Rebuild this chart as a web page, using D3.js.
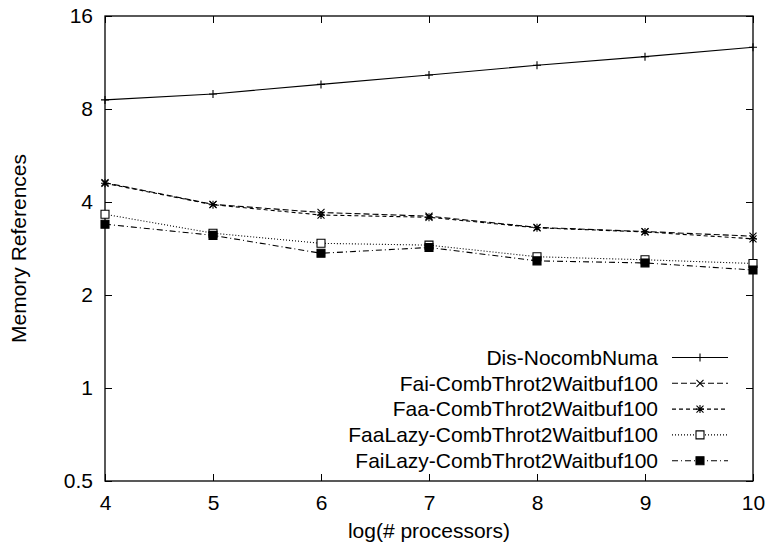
<!DOCTYPE html>
<html lang="en">
  <head>
    <meta charset="UTF-8" />
    <title>Memory References</title>
    <script src="https://cdn.jsdelivr.net/npm/d3@7/dist/d3.min.js"></script>
    <style>
      body { margin: 0; background: #fff; }
      svg text { font-family: 'Liberation Sans', Arial, Helvetica, sans-serif; fill: #000; }
    </style>
  </head>
  <body>
    <div id="chart"></div>
    <script>
      // data
      const procs = [4, 5, 6, 7, 8, 9, 10]
      const disNocombNuma = [8.56, 8.95, 9.61, 10.31, 11.08, 11.82, 12.67]
      const faiComb = [4.62, 3.93, 3.70, 3.60, 3.31, 3.21, 3.10]
      const faaComb = [4.60, 3.92, 3.63, 3.57, 3.30, 3.20, 3.04]
      const faaLazyComb = [3.65, 3.17, 2.94, 2.90, 2.66, 2.60, 2.53]
      const faiLazyComb = [3.39, 3.12, 2.73, 2.85, 2.58, 2.54, 2.41]
      const seriesNames = [
        'Dis-NocombNuma',
        'Fai-CombThrot2Waitbuf100',
        'Faa-CombThrot2Waitbuf100',
        'FaaLazy-CombThrot2Waitbuf100',
        'FaiLazy-CombThrot2Waitbuf100'
      ]
      const yTicks = [0.5, 1, 2, 4, 8, 16]
      const xTicks = [4, 5, 6, 7, 8, 9, 10]

      const seriesValues = [disNocombNuma, faiComb, faaComb, faaLazyComb, faiLazyComb]
      const dashes = ['none', '6,3', '4,3', '1,2', '6,3,1,3']
      const markers = ['plus', 'cross', 'star', 'box', 'filledBox']

      const width = 771
      const height = 550
      const margin = { top: 16, right: 18, bottom: 69, left: 105 }
      const fontSize = 21

      const svg = d3
        .select('#chart')
        .append('svg')
        .attr('width', width)
        .attr('height', height)

      const x = d3
        .scaleLinear()
        .domain([4, 10])
        .range([margin.left, width - margin.right])
      const y = d3
        .scaleLog()
        .base(2)
        .domain([0.5, 16])
        .range([height - margin.bottom, margin.top])

      const tick = 7
      const fmt = d => String(d)

      svg
        .append('g')
        .attr('transform', `translate(0,${y(0.5)})`)
        .call(d3.axisBottom(x).tickValues(xTicks).tickFormat(fmt).tickSizeInner(-tick).tickSizeOuter(0).tickPadding(14))
      svg
        .append('g')
        .attr('transform', `translate(${x(4)},0)`)
        .call(d3.axisLeft(y).tickValues(yTicks).tickFormat(fmt).tickSizeInner(-tick).tickSizeOuter(0).tickPadding(12))
      svg
        .append('g')
        .attr('transform', `translate(0,${y(16)})`)
        .call(d3.axisTop(x).tickValues(xTicks).tickFormat('').tickSizeInner(-tick).tickSizeOuter(0))
      svg
        .append('g')
        .attr('transform', `translate(${x(10)},0)`)
        .call(d3.axisRight(y).tickValues(yTicks).tickFormat('').tickSizeInner(-tick).tickSizeOuter(0))

      svg.selectAll('.domain').remove()
      svg.selectAll('.tick line').attr('stroke', '#000').attr('stroke-width', 1)
      svg
        .selectAll('.tick text')
        .attr('font-size', fontSize)
        .attr('font-family', "'Liberation Sans', Arial, sans-serif")
        .attr('fill', '#000')

      // border
      svg
        .append('rect')
        .attr('x', x(4))
        .attr('y', y(16))
        .attr('width', x(10) - x(4))
        .attr('height', y(0.5) - y(16))
        .attr('fill', 'none')
        .attr('stroke', '#000')
        .attr('stroke-width', 1.3)

      // axis titles
      svg
        .append('text')
        .attr('x', (x(4) + x(10)) / 2)
        .attr('y', 538)
        .attr('text-anchor', 'middle')
        .attr('font-size', fontSize)
        .text('log(# processors)')
      svg
        .append('text')
        .attr('transform', `translate(26,${(y(0.5) + y(16)) / 2}) rotate(-90)`)
        .attr('text-anchor', 'middle')
        .attr('font-size', fontSize)
        .text('Memory References')

      function markerPath(type) {
        const s = 4
        if (type === 'plus') return `M${-s},0H${s}M0,${-s}V${s}`
        if (type === 'cross') return `M-3.5,-3.5L3.5,3.5M-3.5,3.5L3.5,-3.5`
        if (type === 'star') return `M${-s},0H${s}M0,${-s}V${s}M-3.5,-3.5L3.5,3.5M-3.5,3.5L3.5,-3.5`
        return `M${-s},${-s}H${s}V${s}H${-s}Z`
      }

      function drawMarker(g, type, cx, cy) {
        g.append('path')
          .attr('transform', `translate(${cx},${cy})`)
          .attr('d', markerPath(type))
          .attr('fill', type === 'filledBox' ? '#000' : type === 'box' ? '#fff' : 'none')
          .attr('stroke', '#000')
          .attr('stroke-width', 1.1)
      }

      const line = d3
        .line()
        .x(d => x(d[0]))
        .y(d => y(d[1]))

      seriesValues.forEach((vals, i) => {
        const g = svg.append('g')
        const pts = procs.map((p, j) => [p, vals[j]])
        g.append('path')
          .attr('d', line(pts))
          .attr('fill', 'none')
          .attr('stroke', '#000')
          .attr('stroke-width', 1.1)
          .attr('stroke-dasharray', dashes[i])
        pts.forEach(p => drawMarker(g, markers[i], x(p[0]), y(p[1])))
      })

      // legend
      const legendTextX = 658
      const sampleX0 = 672
      const sampleX1 = 728
      const rowY0 = 357.5
      const rowStep = 25.8

      seriesNames.forEach((name, i) => {
        const cy = rowY0 + i * rowStep
        const g = svg.append('g')
        g.append('text')
          .attr('x', legendTextX)
          .attr('y', cy)
          .attr('dy', '0.35em')
          .attr('text-anchor', 'end')
          .attr('font-size', fontSize)
          .text(name)
        g.append('line')
          .attr('x1', sampleX0)
          .attr('x2', sampleX1)
          .attr('y1', cy)
          .attr('y2', cy)
          .attr('stroke', '#000')
          .attr('stroke-width', 1.1)
          .attr('stroke-dasharray', dashes[i])
        drawMarker(g, markers[i], (sampleX0 + sampleX1) / 2, cy)
      })
    </script>
  </body>
</html>
